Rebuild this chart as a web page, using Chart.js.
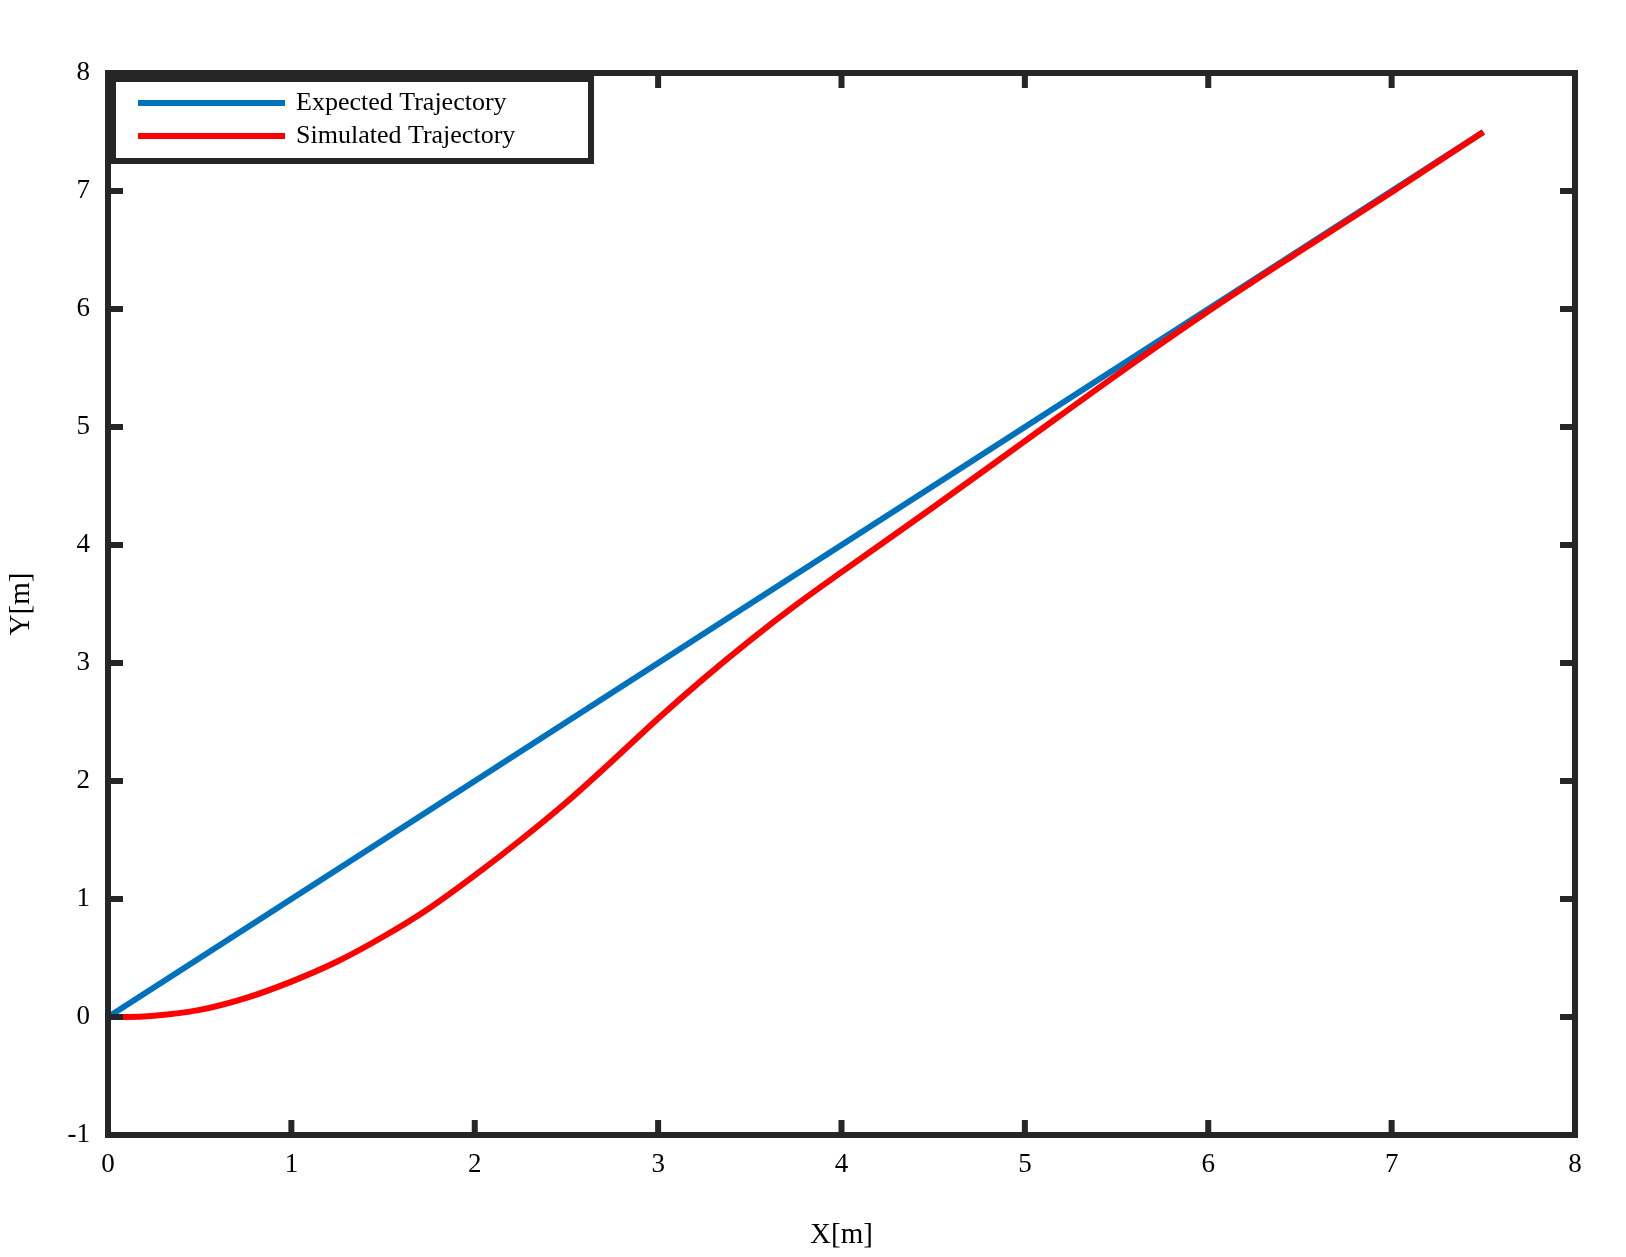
<!DOCTYPE html>
<html><head><meta charset="utf-8">
<script src="https://cdn.jsdelivr.net/npm/chart.js@4/dist/chart.umd.min.js"></script>
<style>html,body{margin:0;background:#fff}#wrap{width:1626px;height:1257px}</style>
</head><body><div id="wrap"><canvas id="c"></canvas></div>
<script>
const expectedX = [0, 7.5];
const expectedY = [0, 7.5];
const simX = [0, 0.1, 0.25, 0.5, 0.75, 1, 1.25, 1.5, 1.75, 2, 2.25, 2.5, 2.75, 3, 3.25, 3.5, 3.75, 4, 4.5, 5, 5.5, 6, 6.5, 7, 7.5];
const simY = [0, 0, 0.01, 0.06, 0.16, 0.3, 0.47, 0.68, 0.92, 1.2, 1.5, 1.82, 2.17, 2.53, 2.87, 3.19, 3.49, 3.77, 4.32, 4.88, 5.44, 5.98, 6.49, 6.99, 7.5];
const xTicks = [0, 1, 2, 3, 4, 5, 6, 7, 8];
const yTicks = [-1, 0, 1, 2, 3, 4, 5, 6, 7, 8];
const labels = ['Expected Trajectory', 'Simulated Trajectory'];
const colors = ['#0072bd', '#ff0000'];

const toPts = (xs, ys) => xs.map((x, i) => ({x: x, y: ys[i]}));
const FONT = 'Liberation Serif';

// frame, inward ticks and boxed legend
const framePlugin = {
  id: 'frame',
  afterDraw(chart) {
    const ctx = chart.ctx, a = chart.chartArea;
    const xs = chart.scales.x, ys = chart.scales.y;
    ctx.save();
    ctx.strokeStyle = '#262626';
    ctx.lineWidth = 6;
    ctx.strokeRect(a.left, a.top, a.right - a.left, a.bottom - a.top);
    const L = 15;
    xTicks.forEach(v => {
      const p = xs.getPixelForValue(v);
      ctx.beginPath();
      ctx.moveTo(p, a.bottom); ctx.lineTo(p, a.bottom - L);
      ctx.moveTo(p, a.top); ctx.lineTo(p, a.top + L);
      ctx.stroke();
    });
    yTicks.forEach(v => {
      const p = ys.getPixelForValue(v);
      ctx.beginPath();
      ctx.moveTo(a.left, p); ctx.lineTo(a.left + L, p);
      ctx.moveTo(a.right, p); ctx.lineTo(a.right - L, p);
      ctx.stroke();
    });
    // legend box
    const bx = a.left + 5, by = a.top + 6, bw = 478, bh = 82;
    ctx.fillStyle = '#fff';
    ctx.fillRect(bx, by, bw, bh);
    ctx.strokeRect(bx, by, bw, bh);
    ctx.font = '26px "' + FONT + '"';
    ctx.textBaseline = 'middle';
    labels.forEach((t, i) => {
      const yy = by + 24 + i * 33;
      ctx.strokeStyle = colors[i];
      ctx.lineWidth = 6;
      ctx.beginPath(); ctx.moveTo(bx + 25, yy); ctx.lineTo(bx + 172, yy); ctx.stroke();
      ctx.fillStyle = '#000';
      ctx.fillText(t, bx + 183, yy);
    });
    ctx.restore();
  }
};

new Chart(document.getElementById('c'), {
  type: 'scatter',
  data: {
    datasets: [
      {label: labels[0], data: toPts(expectedX, expectedY), showLine: true, borderColor: colors[0], borderWidth: 6, pointRadius: 0, order: 2},
      {label: labels[1], data: toPts(simX, simY), showLine: true, borderColor: colors[1], borderWidth: 6, pointRadius: 0, order: 1, cubicInterpolationMode: 'monotone'}
    ]
  },
  options: {
    responsive: true,
    maintainAspectRatio: false,
    animation: false,
    layout: {padding: {top: 73, right: 51, left: 0, bottom: 0}},
    plugins: {legend: {display: false}, tooltip: {enabled: false}},
    scales: {
      x: {
        min: 0, max: 8,
        afterBuildTicks: s => { s.ticks = xTicks.map(v => ({value: v})); },
        afterFit: s => { s.height = 122; },
        grid: {display: false},
        border: {display: false},
        ticks: {color: '#000', font: {family: FONT, size: 27}, padding: 6},
        title: {display: true, text: 'X[m]', color: '#000', font: {family: FONT, size: 29}, padding: {top: 6}}
      },
      y: {
        min: -1, max: 8,
        afterBuildTicks: s => { s.ticks = yTicks.map(v => ({value: v})); },
        afterFit: s => { s.width = 108; },
        grid: {display: false},
        border: {display: false},
        ticks: {color: '#000', font: {family: FONT, size: 27}, padding: 10},
        title: {display: true, text: 'Y[m]', color: '#000', font: {family: FONT, size: 29}, padding: {bottom: 14}}
      }
    }
  },
  plugins: [framePlugin]
});
</script></body></html>
